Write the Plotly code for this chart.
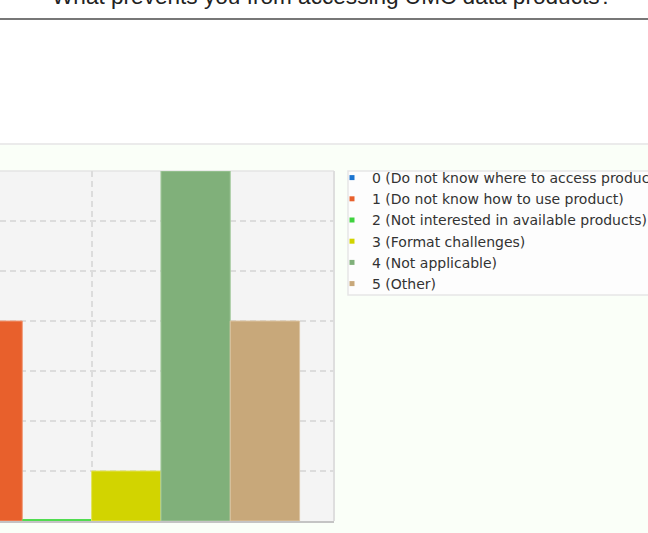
import plotly.graph_objects as go

# ---- data ----
question = "What prevents you from accessing UMC data products?"
group_label = ["Responses"]
series_names = [
    "0 (Do not know where to access products)",
    "1 (Do not know how to use product)",
    "2 (Not interested in available products)",
    "3 (Format challenges)",
    "4 (Not applicable)",
    "5 (Other)",
]
series_values = [2, 4, 0, 1, 7, 4]
series_colors = ["#1b74d0", "#e8602c", "#3fd23f", "#d2d400", "#80b07a", "#c8a87a"]
edge_colors = ["#5a9ee0", "#f09a78", "#50dc50", "#e2e45a", "#a6cba0", "#dcc4a2"]

W, H = 648, 533
PL, PR, PT, PB = 0, 334, 171, 521          # plot area in pixels


def px_x(p):
    return (p - PL) / (PR - PL)


def px_y(p):
    return (PB - p) / (PB - PT)


fig = go.Figure()
for name, val, col, ecol in zip(series_names, series_values, series_colors, edge_colors):
    fig.add_trace(go.Bar(
        x=group_label, y=[val], name=name,
        marker=dict(color=col, line=dict(color=ecol, width=4 if val == 0 else 1)),
        showlegend=False, legendgroup=name,
    ))
    # small square legend swatch
    fig.add_trace(go.Scatter(
        x=[None], y=[None], mode="markers", name=name, legendgroup=name,
        marker=dict(symbol="square", size=5, color=col),
        showlegend=True,
    ))

shapes = [
    # page background of the chart area
    dict(type="rect", xref="paper", yref="paper", x0=-0.2, x1=2.2,
         y0=px_y(560), y1=px_y(145), fillcolor="#fafff8", line=dict(width=0), layer="below"),
    dict(type="line", xref="paper", yref="paper", x0=-0.2, x1=2.2,
         y0=px_y(144), y1=px_y(144), line=dict(color="#ebebeb", width=2), layer="below"),
    # plot background
    dict(type="rect", xref="paper", yref="paper", x0=-0.2, x1=1,
         y0=0, y1=1, fillcolor="#f4f4f4", line=dict(width=0), layer="below"),
    dict(type="line", xref="paper", yref="paper", x0=-0.2, x1=1, y0=1, y1=1,
         line=dict(color="#e4e4e4", width=1.5), layer="below"),
    dict(type="line", xref="paper", yref="paper", x0=1, x1=1, y0=0, y1=1,
         line=dict(color="#dedede", width=2), layer="below"),
    # legend box
    dict(type="rect", xref="paper", yref="paper", x0=px_x(348), x1=px_x(700),
         y0=px_y(295), y1=px_y(171), fillcolor="#fdfdfd",
         line=dict(color="#e6e6e6", width=1.5), layer="below"),
    # title rule
    dict(type="line", xref="paper", yref="paper", x0=-0.2, x1=2.2,
         y0=px_y(19), y1=px_y(19), line=dict(color="#777777", width=2), layer="below"),
]

fig.update_layout(
    width=W, height=H,
    margin=dict(l=PL, r=W - PR, t=PT, b=H - PB, pad=0, autoexpand=False),
    paper_bgcolor="white", plot_bgcolor="rgba(0,0,0,0)",
    barmode="group", bargap=0.142, bargroupgap=0,
    shapes=shapes,
    showlegend=True,
    legend=dict(
        x=px_x(332), y=px_y(162), xanchor="left", yanchor="top",
        bgcolor="rgba(0,0,0,0)", borderwidth=0, tracegroupgap=0,
        font=dict(family="DejaVu Sans", size=14, color="#333333"),
        itemclick=False, itemdoubleclick=False,
    ),
    annotations=[dict(
        text=question, xref="paper", yref="paper", x=px_x(332), y=px_y(-4),
        xanchor="center", yanchor="middle", showarrow=False,
        font=dict(family="Liberation Sans", size=22.6, color="#222222"),
    )],
    xaxis=dict(
        type="category", range=[-0.189, 0.5], showgrid=True,
        gridcolor="#dcdcdc", griddash="6px,4px", gridwidth=1.5,
        showline=True, linecolor="#c4c4c4", linewidth=2,
        showticklabels=False, ticks="", layer="below traces", fixedrange=True,
    ),
    yaxis=dict(
        range=[0, 7], dtick=1, showgrid=True,
        gridcolor="#dcdcdc", griddash="6px,4px", gridwidth=1.5,
        zeroline=False, showline=False, showticklabels=False, ticks="",
        fixedrange=True,
    ),
)

fig.write_html("out.html")
